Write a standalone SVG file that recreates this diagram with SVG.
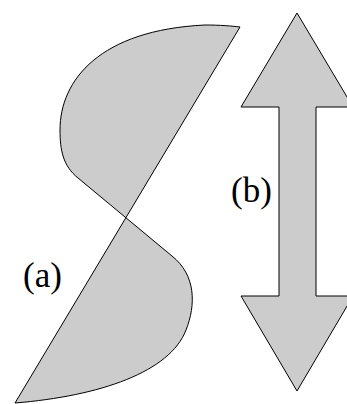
<svg xmlns="http://www.w3.org/2000/svg" width="347" height="404" viewBox="0 0 347 404">
<style>
.shape{fill:#cccccc;stroke:#000000;stroke-width:1;stroke-linejoin:miter}
.lbl{font-family:"Liberation Serif","Times New Roman",serif;font-size:35px;fill:#000000}
</style>
<rect width="347" height="404" fill="#ffffff"/>
<g id="s-shape">
<path class="shape" d="M240,27 L15,403 C100,396 170,372 186,330 C196,305 196,275 172,256 L78,178 C63,166 60,150 60,130 C60,80 100,30 205,25 C220,25 232,26 240,27 Z"/>
</g>
<g id="double-arrow">
<path class="shape" d="M297,13 L353,107 L316,107 L316,296 L353,296 L297,391 L241,296 L279,296 L279,107 L241,107 Z"/>
</g>
<g id="label-a"><text class="lbl" x="23" y="287">(a)</text></g>
<g id="label-b"><text class="lbl" x="231" y="202">(b)</text></g>
</svg>
